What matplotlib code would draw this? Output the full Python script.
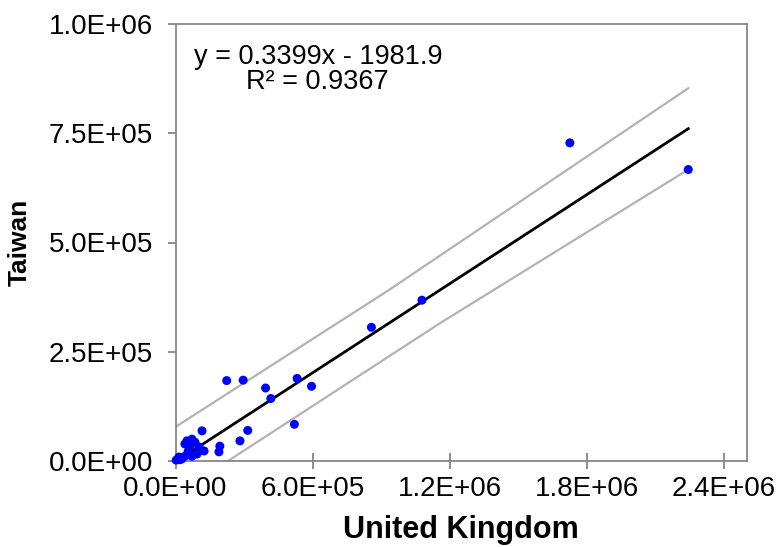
import matplotlib
matplotlib.use("Agg")
import matplotlib.pyplot as plt
from matplotlib.ticker import FuncFormatter, MultipleLocator
import numpy as np

plt.rcParams['font.family'] = ['Liberation Sans', 'DejaVu Sans']

# Observations: United Kingdom (x) vs Taiwan (y)
uk = [2243000, 1725000, 1078000, 857000, 595000, 532000, 520000, 417000,
      394000, 316000, 296000, 282000, 224000, 194000, 190000, 125000,
      116000, 103000, 94000, 85000, 72000, 50000, 63000, 41000, 72000,
      41000, 28000, 15000, 3000, 55000, 20000]
taiwan = [667000, 728000, 368000, 306000, 171000, 189000, 84000, 143000,
          167000, 70000, 185000, 46000, 184000, 34000, 21000, 23000,
          69000, 32000, 16000, 43000, 50000, 46000, 34000, 39000, 11000,
          11000, 5000, 9000, 2000, 22000, 3000]

# Linear trend (as printed on the chart)
slope = 0.3399
intercept = -1981.9
r_squared = 0.9367

# Prediction band lines
upper_x = [0, 930000, 2243000]
upper_y = [78000, 390000, 853000]
lower_x = [0, 1156000, 2243000]
lower_y = [-78000, 315000, 667000]

fig = plt.figure(figsize=(7.76, 5.47), dpi=100)
ax = fig.add_axes([175.5 / 776, 1 - 461 / 547, (747 - 175.5) / 776, (461 - 24) / 547])

ax.plot(upper_x, upper_y, color='#b3b3b3', lw=1.6, zorder=2)
ax.plot(lower_x, lower_y, color='#b3b3b3', lw=1.6, zorder=2)

fx = np.array([0, max(uk)])
ax.plot(fx, slope * fx + intercept, color='black', lw=2.0, zorder=3)

ax.scatter(uk, taiwan, s=42, color='#0000ff', edgecolors='none', zorder=4, clip_on=False)

ax.set_xlim(0, 2.5e6)
ax.set_ylim(0, 1.0e6)
ax.xaxis.set_major_locator(MultipleLocator(6e5))
ax.yaxis.set_major_locator(MultipleLocator(2.5e5))
fmt = FuncFormatter(lambda v, p: f"{v:.1E}")
ax.xaxis.set_major_formatter(fmt)
ax.yaxis.set_major_formatter(fmt)

for s in ax.spines.values():
    s.set_color('#868686')
    s.set_linewidth(1.3)
ax.tick_params(axis='x', direction='inout', length=11, width=1.3, color='#868686',
               labelsize=20, pad=5)
ax.tick_params(axis='y', direction='out', length=6, width=1.3, color='#868686',
               labelsize=20, pad=10)

ax.set_xlabel('United Kingdom', fontsize=22, fontweight='bold', labelpad=10)
ax.set_ylabel('Taiwan', fontsize=19, fontweight='bold', labelpad=12)

fig.text(318 / 776, 1 - 56.7 / 547, f"y = {slope}x - {abs(intercept)}", fontsize=19.5,
         ha='center', va='center')
fig.text(317 / 776, 1 - 81.7 / 547, f"R² = {r_squared}", fontsize=19.5,
         ha='center', va='center')

fig.savefig('out.png', dpi=100)
